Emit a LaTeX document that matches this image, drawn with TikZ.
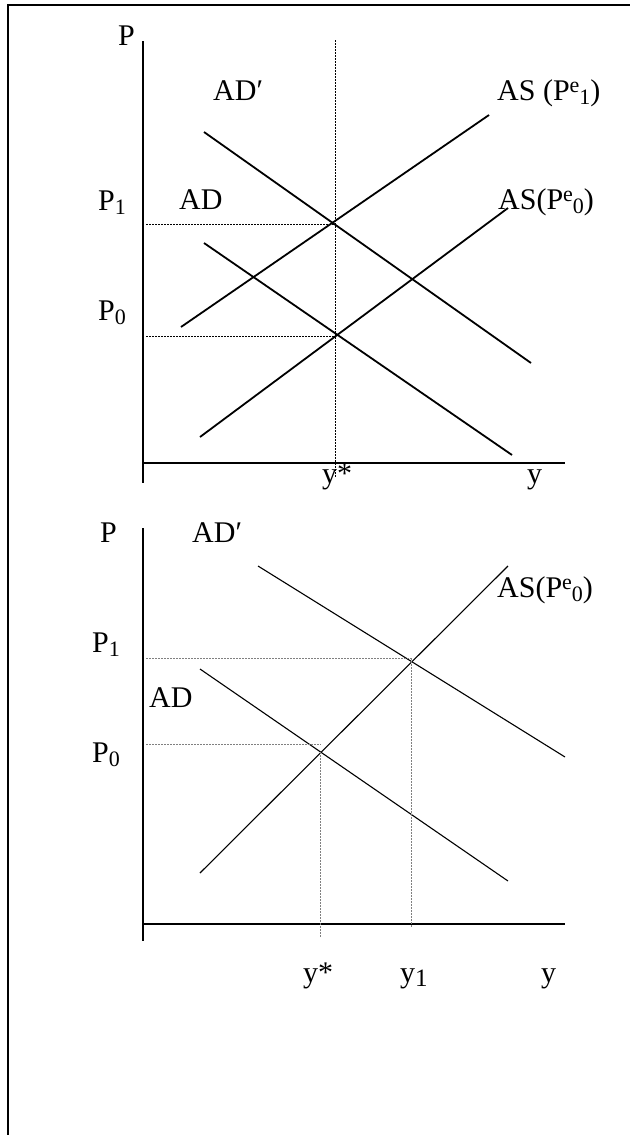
\documentclass[tikz,border=0pt]{standalone}
\usepackage{fontspec}
\setmainfont{Liberation Serif}
\usepackage{tikz}
\newcommand{\up}[1]{\raisebox{8pt}{\fontsize{22}{22}\selectfont #1}}
\newcommand{\dn}[1]{\raisebox{-4pt}{\fontsize{22}{22}\selectfont #1}}
\tikzset{
  axis/.style={line width=2.5pt},
  curve/.style={line width=1.8pt},
  thincurve/.style={line width=1.1pt},
  guide/.style={line width=1pt, dash pattern=on 1.5pt off 1.5pt},
  lbl/.style={anchor=base west, inner sep=0pt, font=\fontsize{30}{33}\selectfont}
}
\begin{document}
\begin{tikzpicture}[x=1pt, y=-1pt]
        \useasboundingbox (0,0) rectangle (631,1135);
        % frame
        \draw[line width=2pt] (7,5) -- (630,5);
        \draw[line width=2.5pt] (8,4) -- (8,1135);
        % upper panel
        \coordinate (Ptop) at (143,41);
        \coordinate (Pbot) at (143,483);
        \coordinate (yend) at (565,463);
        \coordinate (O) at (143,463);
        \draw[axis] (Ptop) -- (Pbot);
        \draw[axis] (O) -- (yend);
        \draw[curve] (204,132) -- (531,363);
        \draw[curve] (204,243) -- (512,455);
        \draw[curve] (181,327) -- (489,115);
        \draw[curve] (200,437) -- (508,208);
        \coordinate (E1) at (334,224);
        \coordinate (E0) at (336,336);
        \coordinate (ystar) at (335,40);
        \draw[guide] (146,224) -- (E1);
        \draw[guide] (146,336) -- (E0);
        \draw[guide] (ystar) -- (335,478);
        \node[lbl] (pA) at (118,45) {P};
        \node[lbl] (adpA) at (213,100) {AD′};
        \node[lbl] (asoneA) at (497,100) {AS (P\up{e}\dn{1})};
        \node[lbl] (poneA) at (98,210) {P\dn{1}};
        \node[lbl] (adA) at (179,209) {AD};
        \node[lbl] (aszeroA) at (498,209) {AS(P\up{e}\dn{0})};
        \node[lbl] (pzeroA) at (98,320) {P\dn{0}};
        \node[lbl] (ystarA) at (322,483) {y*};
        \node[lbl] (yA) at (527,483) {y};
        % lower panel
        \coordinate (Qtop) at (143,528);
        \coordinate (Qbot) at (143,941);
        \coordinate (zend) at (565,924);
        \coordinate (Q) at (143,924);
        \draw[axis] (Qtop) -- (Qbot);
        \draw[axis] (Q) -- (zend);
        \draw[thincurve] (258,566) -- (565,757);
        \draw[thincurve] (200,873) -- (508,566);
        \draw[thincurve] (200,669) -- (508,881);
        \coordinate (F1) at (411,658);
        \coordinate (F0) at (321,744);
        \draw[guide, gray] (146,658) -- (F1);
        \draw[guide, gray] (F1) -- (411,927);
        \draw[guide, gray] (146,744) -- (F0);
        \draw[guide, gray] (320,752) -- (320,937);
        \node[lbl] (pB) at (100,542) {P};
        \node[lbl] (adpB) at (192,542) {AD′};
        \node[lbl] (aszeroB) at (497,597) {AS(P\up{e}\dn{0})};
        \node[lbl] (poneB) at (92,652) {P\dn{1}};
        \node[lbl] (adB) at (149,707) {AD};
        \node[lbl] (pzeroB) at (92,762) {P\dn{0}};
        \node[lbl] (ystarB) at (303,982) {y*};
        \node[lbl] (yoneB) at (400,982) {y\raisebox{-4pt}{\fontsize{25}{25}\selectfont 1}};
        \node[lbl] (yB) at (541,982) {y};
    \end{tikzpicture}
\end{document}
